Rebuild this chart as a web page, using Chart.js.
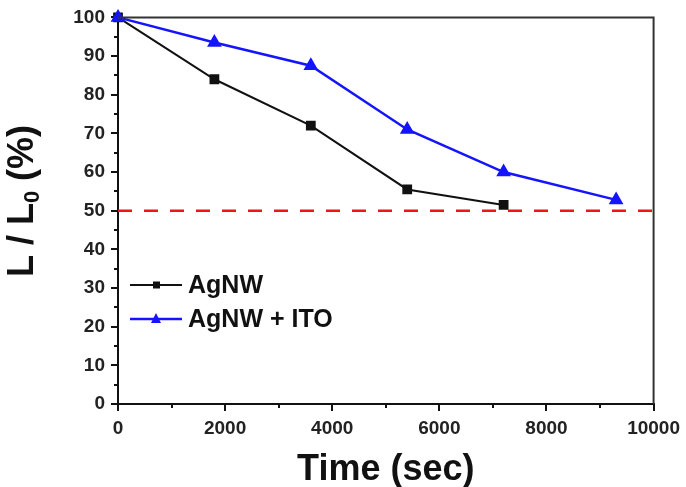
<!DOCTYPE html>
<html>
<head>
<meta charset="utf-8">
<script src="https://cdn.jsdelivr.net/npm/chart.js@4.4.1/dist/chart.umd.min.js"></script>
<style>
  html, body { margin: 0; padding: 0; background: #fff; }
  canvas { display: block; }
</style>
</head>
<body>
<canvas id="lifetimeChart" width="686" height="487"></canvas>
<script>
// values
var timeAgNW = [0, 1800, 3600, 5400, 7200];
var lumAgNW = [100, 84, 72, 55.5, 51.5];
var timeAgNWITO = [0, 1800, 3600, 5400, 7200, 9300];
var lumAgNWITO = [100, 93.5, 87.5, 71, 60, 52.8];
var halfLine = [50, 50];
var halfLineX = [0, 10000];
var seriesNames = ['AgNW', 'AgNW + ITO'];

var xMinorStep = 1000;
var yMinorStep = 5;
var FONT = '"Liberation Sans", Arial, sans-serif';

function toPoints(xs, ys) {
    return xs.map(function (x, i) { return { x: x, y: ys[i] }; });
}

// minor ticks, top/right frame, axis titles and the inset legend
var decorPlugin = {
    id: 'decor',
    afterDraw: function (chart) {
        var ctx = chart.ctx;
        var area = chart.chartArea;
        var xs = chart.scales.x;
        var ys = chart.scales.y;
        ctx.save();

        ctx.strokeStyle = '#111';
        ctx.lineWidth = 2;
        var v;
        for (v = xs.min + xMinorStep; v < xs.max; v += 2 * xMinorStep) {
            var px = Math.round(xs.getPixelForValue(v));
            ctx.beginPath();
            ctx.moveTo(px, area.bottom);
            ctx.lineTo(px, area.bottom + 4);
            ctx.stroke();
        }
        for (v = ys.min + yMinorStep; v < ys.max; v += 2 * yMinorStep) {
            var py = Math.round(ys.getPixelForValue(v));
            ctx.beginPath();
            ctx.moveTo(area.left, py);
            ctx.lineTo(area.left - 4, py);
            ctx.stroke();
        }

        ctx.strokeStyle = '#333';
        ctx.beginPath();
        ctx.moveTo(area.left, area.top);
        ctx.lineTo(area.right, area.top);
        ctx.lineTo(area.right, area.bottom);
        ctx.stroke();

        // x title
        ctx.fillStyle = '#111';
        ctx.font = 'bold 36px ' + FONT;
        ctx.textAlign = 'center';
        ctx.textBaseline = 'alphabetic';
        ctx.fillText('Time (sec)', (area.left + area.right) / 2, 480);

        // y title with subscript
        ctx.save();
        ctx.translate(33, 201);
        ctx.rotate(-Math.PI / 2);
        var big = 'bold 36px ' + FONT;
        var small = 'bold 22px ' + FONT;
        ctx.font = big;
        var p1 = 'L / L', p3 = ' (%)';
        var w1 = ctx.measureText(p1).width;
        var w3 = ctx.measureText(p3).width;
        ctx.font = small;
        var w2 = ctx.measureText('0').width;
        var start = -(w1 + w2 + w3) / 2;
        ctx.textAlign = 'left';
        ctx.font = big;
        ctx.fillText(p1, start, 0);
        ctx.font = small;
        ctx.fillText('0', start + w1, 6);
        ctx.font = big;
        ctx.fillText(p3, start + w1 + w2, 0);
        ctx.restore();

        // legend
        var rows = [
            { ds: chart.data.datasets[0], y: 285 },
            { ds: chart.data.datasets[1], y: 319 }
        ];
        rows.forEach(function (r, i) {
            ctx.strokeStyle = r.ds.borderColor;
            ctx.lineWidth = r.ds.borderWidth;
            ctx.beginPath();
            ctx.moveTo(130, r.y);
            ctx.lineTo(182, r.y);
            ctx.stroke();
            ctx.fillStyle = r.ds.pointBackgroundColor;
            if (r.ds.pointStyle === 'rect') {
                ctx.fillRect(153, r.y - 3.5, 7, 7);
            } else {
                ctx.beginPath();
                ctx.moveTo(156, r.y - 6);
                ctx.lineTo(161, r.y + 4);
                ctx.lineTo(151, r.y + 4);
                ctx.closePath();
                ctx.fill();
            }
            ctx.fillStyle = '#111';
            ctx.font = 'bold 25px ' + FONT;
            ctx.textAlign = 'left';
            ctx.textBaseline = 'middle';
            ctx.fillText(seriesNames[i], 188, r.y + 1);
        });

        ctx.restore();
    }
};

new Chart(document.getElementById('lifetimeChart'), {
    type: 'scatter',
    data: {
        datasets: [{
            label: seriesNames[0],
            data: toPoints(timeAgNW, lumAgNW),
            showLine: true,
            borderColor: '#111',
            backgroundColor: '#111',
            pointBackgroundColor: '#111',
            pointBorderColor: '#111',
            borderWidth: 2,
            pointStyle: 'rect',
            pointRadius: 5.5,
            clip: false,
            order: 1
        }, {
            label: seriesNames[1],
            data: toPoints(timeAgNWITO, lumAgNWITO),
            showLine: true,
            borderColor: '#1414ff',
            backgroundColor: '#1414ff',
            pointBackgroundColor: '#1414ff',
            pointBorderColor: '#1414ff',
            borderWidth: 2.5,
            pointStyle: 'triangle',
            pointRadius: 6,
            clip: false,
            order: 0
        }, {
            label: 'half',
            data: toPoints(halfLineX, halfLine),
            showLine: true,
            borderColor: '#f01414',
            borderWidth: 2.5,
            borderDash: [14, 12],
            pointRadius: 0,
            order: 2
        }]
    },
    options: {
        responsive: false,
        animation: false,
        layout: { padding: { top: 12, right: 32, left: 0, bottom: 0 } },
        plugins: {
            legend: { display: false },
            tooltip: { enabled: false }
        },
        scales: {
            x: {
                type: 'linear',
                min: 0,
                max: 10000,
                afterFit: function (s) { s.height = 83; },
                ticks: {
                    stepSize: 2000,
                    color: '#222',
                    padding: 6,
                    maxRotation: 0,
                    font: { family: FONT, size: 19, weight: 'bold' },
                    callback: function (v) { return String(v); }
                },
                grid: { drawOnChartArea: false, drawTicks: true, tickLength: 7, color: '#111', lineWidth: 2 },
                border: { display: true, color: '#111', width: 2 }
            },
            y: {
                min: 0,
                max: 100,
                afterFit: function (s) { s.width = 118; },
                ticks: {
                    stepSize: 10,
                    color: '#222',
                    padding: 6,
                    font: { family: FONT, size: 19, weight: 'bold' }
                },
                grid: { drawOnChartArea: false, drawTicks: true, tickLength: 7, color: '#111', lineWidth: 2 },
                border: { display: true, color: '#111', width: 2 }
            }
        }
    },
    plugins: [decorPlugin]
});
</script>
</body>
</html>
